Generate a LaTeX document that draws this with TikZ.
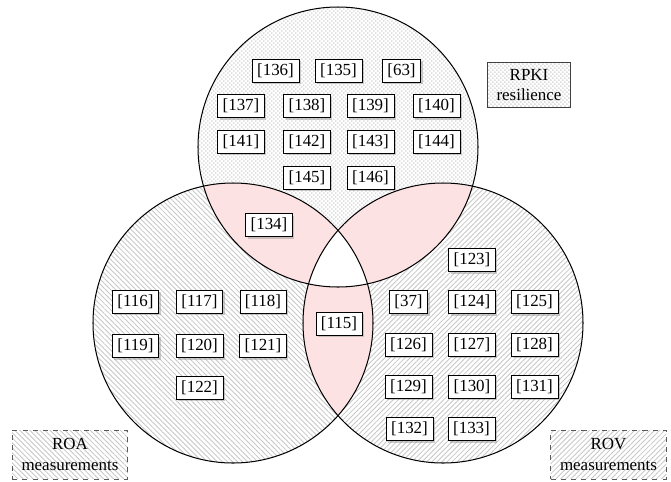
\documentclass[tikz,border=0pt]{standalone}
\usepackage{fontspec}
\setmainfont{Liberation Serif}
\usetikzlibrary{patterns.meta,shadows}
\definecolor{lenspink}{RGB}{253,226,228}
% staggered dots for the RPKI set
\tikzdeclarepattern{name=stagdots,type=uncolored,
    bounding box={(0,0) and (2.6pt,2.6pt)},tile size={(2.6pt,2.6pt)},
    code={\fill (0.65pt,0.65pt) circle (0.5pt); \fill (1.95pt,1.95pt) circle (0.5pt);}}

\begin{document}
\begin{tikzpicture}[x=0.59pt,y=-0.59pt,
    ref/.style={draw,fill=white,inner xsep=3pt,inner ysep=0pt,minimum height=13.6pt,
      drop shadow={shadow xshift=1.2pt,shadow yshift=-1.2pt,fill=black!40}},
    setlabel/.style={draw=black!65,dashed,align=center,inner xsep=5.5pt,inner ysep=5pt},
    dotfill/.style={pattern=stagdots,pattern color=black!25},
    nwfill/.style={pattern={Lines[angle=-45,distance=2.1pt,line width=0.5pt]},pattern color=black!22},
    nefill/.style={pattern={Lines[angle=45,distance=2.1pt,line width=0.5pt]},pattern color=black!22}]
    \useasboundingbox (0,0) rectangle (671,481);
    \def\rad{82.6pt}
    % circle centres (picture measured in pixels, y downwards)
    \coordinate (T) at (338,147);   % RPKI resilience
    \coordinate (L) at (233,323);   % ROA measurements
    \coordinate (R) at (443,323);   % ROV measurements
    % hatched and dotted sets
    \fill[dotfill] (T) circle (\rad);
    \fill[nwfill] (L) circle (\rad);
    \fill[nefill] (R) circle (\rad);
    % pairwise overlaps in pink
    \begin{scope}
        \clip (T) circle (\rad);
        \fill[lenspink] (L) circle (\rad);
        \fill[lenspink] (R) circle (\rad);
    \end{scope}
    \begin{scope}
        \clip (L) circle (\rad);
        \fill[lenspink] (R) circle (\rad);
    \end{scope}
    % centre, shared by all three, left white
    \begin{scope}
        \clip (T) circle (\rad);
        \clip (L) circle (\rad);
        \fill[white] (R) circle (\rad);
    \end{scope}
    % outlines
    \draw[line width=0.6pt] (T) circle (\rad);
    \draw[line width=0.6pt] (L) circle (\rad);
    \draw[line width=0.6pt] (R) circle (\rad);
    % references, RPKI resilience
    \foreach \lbl/\px/\py in {136/275.5/70.5,135/338.5/70.5,63/401.5/70.5,
        137/241/106,138/307/106,139/370.5/106,140/436.5/106,
        141/241/141.5,142/307/141.5,143/370.5/141.5,144/436.5/141.5,
        145/307/177.5,146/370.5/177.5}
        \node[ref] (r\lbl) at (\px,\py) {[\lbl]};
    % references, overlaps
    \node[ref] (r134) at (269,225) {[134]};
    \node[ref] (r115) at (339,323.5) {[115]};
    % references, ROA measurements
    \foreach \lbl/\px/\py in {116/135.5/301.5,117/199.5/301.5,118/263/301.5,
        119/135.5/346,120/199.5/346,121/263/346,122/199.5/387.5}
        \node[ref] (r\lbl) at (\px,\py) {[\lbl]};
    % references, ROV measurements
    \foreach \lbl/\px/\py in {123/472/260,37/408.5/302,124/472/302,125/534.5/302,
        126/408.5/344.5,127/472/344.5,128/534.5/344.5,
        129/408.5/386.5,130/472/386.5,131/534.5/386.5,
        132/409.5/429,133/471.5/429}
        \node[ref] (r\lbl) at (\px,\py) {[\lbl]};
    % set names
    \node[setlabel,dotfill,draw=black!75,solid,inner ysep=4pt] (rpki) at (529,85) {RPKI\\resilience};
    \node[setlabel,nwfill] (roa) at (70,454.5) {ROA\\measurements};
    \node[setlabel,nefill] (rov) at (608.5,454.5) {ROV\\measurements};
\end{tikzpicture}
\end{document}
